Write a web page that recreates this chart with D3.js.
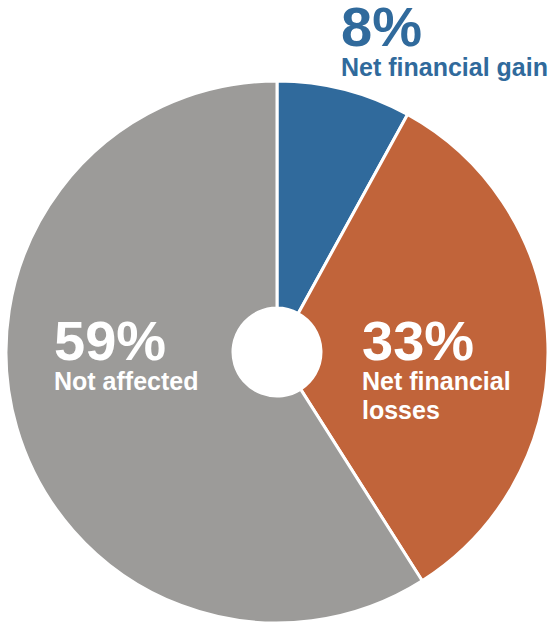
<!DOCTYPE html>
<html>
<head>
<meta charset="utf-8">
<script src="https://cdn.jsdelivr.net/npm/d3@7"></script>
<style>
  html, body { margin: 0; padding: 0; background: #fff; }
  svg { display: block; font-family: "Liberation Sans", Arial, sans-serif; font-weight: bold; }
</style>
</head>
<body>
<svg id="chart" width="548" height="626"></svg>
<script>
// Share of respondents by financial outcome
const categories = ["Net financial gain", "Net financial losses", "Not affected"];
const shares = [8, 33, 59];
const colors = ["#306a9c", "#c1643a", "#9c9b99"];
// label lines shown under each percentage
const labelLines = [["Net financial gain"], ["Net financial", "losses"], ["Not affected"]];

const svg = d3.select("#chart");
const cx = 277, cy = 352, outerR = 271, innerR = 44;

const pie = d3.pie().sort(null).value(d => d.value);
const arc = d3.arc().innerRadius(innerR).outerRadius(outerR);

const data = categories.map((c, i) => ({ name: c, value: shares[i], color: colors[i], lines: labelLines[i] }));
const arcs = pie(data);

const g = svg.append("g").attr("transform", `translate(${cx},${cy})`);
g.selectAll("path")
  .data(arcs)
  .join("path")
  .attr("d", arc)
  .attr("fill", d => d.data.color)
  .attr("stroke", "#fff")
  .attr("stroke-width", 3)
  .attr("stroke-linejoin", "round");

// label anchor points (left edge, baseline of the percentage)
const labelPos = [
  { x: 341, y: 46, fill: colors[0] },
  { x: 362, y: 360, fill: "#fff" },
  { x: 54, y: 360, fill: "#fff" }
];

arcs.forEach((a, i) => {
  const p = labelPos[i];
  const t = svg.append("text")
    .attr("x", p.x).attr("y", p.y)
    .attr("fill", p.fill);
  t.append("tspan").attr("x", p.x).attr("font-size", 56).text(a.data.value + "%");
  a.data.lines.forEach((ln, j) => {
    t.append("tspan").attr("x", p.x).attr("dy", j === 0 ? 30 : 29)
      .attr("font-size", 25).text(ln);
  });
});
</script>
</body>
</html>
